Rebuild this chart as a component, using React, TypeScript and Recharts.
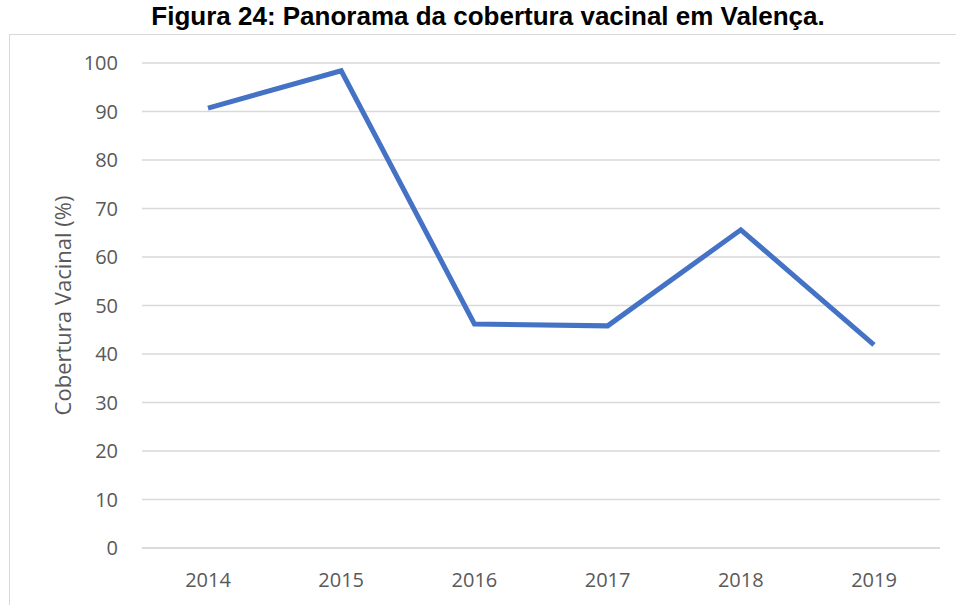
import { CartesianGrid, Label, Line, LineChart, XAxis, YAxis } from 'recharts'

const years = ['2014', '2015', '2016', '2017', '2018', '2019']
const coverage = [90.7, 98.4, 46.2, 45.8, 65.6, 41.9]
const yTicks = [0, 10, 20, 30, 40, 50, 60, 70, 80, 90, 100]

const chartData = years.map((year, i) => ({ year, coverage: coverage[i] }))

const tickStyle = { fill: '#595959', fontSize: 20, fontFamily: '"Open Sans", sans-serif' }

export default function App() {
  return (
    <div style={{ position: 'absolute', left: 0, top: 0, width: 956, height: 605, background: '#fff', overflow: 'hidden' }}>
      {/* chart frame */}
      <div
        style={{
          position: 'absolute',
          left: 9,
          top: 34,
          width: 960,
          height: 600,
          border: '1px solid #d9d9d9',
          boxSizing: 'border-box',
        }}
      />
      <div
        style={{
          position: 'absolute',
          left: 0,
          width: 976,
          top: 1,
          textAlign: 'center',
          fontFamily: '"Liberation Sans", Arial, sans-serif',
          fontWeight: 'bold',
          fontSize: 26,
          lineHeight: '30px',
          color: '#000',
        }}
      >
        Figura 24: Panorama da cobertura vacinal em Valença.
      </div>
      <div style={{ position: 'absolute', left: 0, top: 0 }}>
        <LineChart width={956} height={605} data={chartData} margin={{ top: 63, right: 16, bottom: 27, left: 0 }}>
          <CartesianGrid vertical={false} stroke="#d9d9d9" strokeWidth={1.5} />
          <XAxis
            dataKey="year"
            axisLine={{ stroke: '#d9d9d9', strokeWidth: 1.5 }}
            tickLine={false}
            tickSize={0}
            tickMargin={25}
            height={30}
            padding={{ left: 66, right: 66 }}
            tick={tickStyle}
          />
          <YAxis
            domain={[0, 100]}
            ticks={yTicks}
            width={142}
            axisLine={false}
            tickLine={false}
            tickSize={0}
            tickMargin={24}
            tick={tickStyle}
          >
            <Label
              content={({ viewBox }: any) => {
                const cy = viewBox.y + viewBox.height / 2
                return (
                  <text
                    x={62}
                    y={cy}
                    transform={`rotate(-90, 62, ${cy})`}
                    textAnchor="middle"
                    dominantBaseline="central"
                    fill="#595959"
                    fontSize={22}
                    fontFamily='"Open Sans", sans-serif'
                  >
                    Cobertura Vacinal (%)
                  </text>
                )
              }}
            />
          </YAxis>
          <Line
            type="linear"
            dataKey="coverage"
            stroke="#4472c4"
            strokeWidth={5}
            dot={false}
            isAnimationActive={false}
          />
        </LineChart>
      </div>
    </div>
  )
}
